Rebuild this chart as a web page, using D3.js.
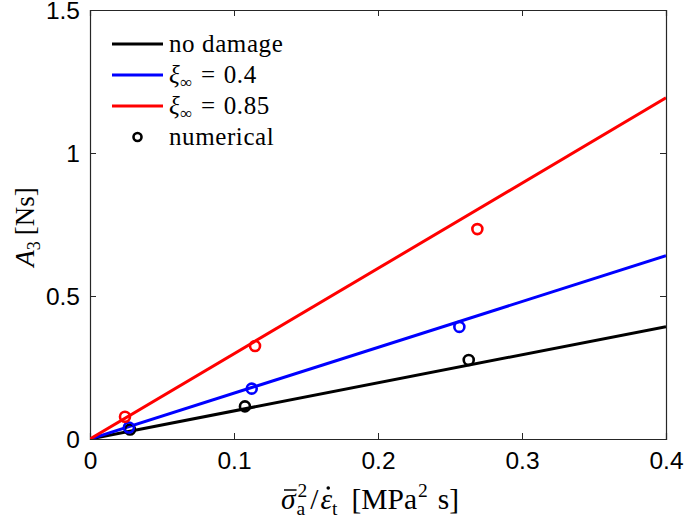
<!DOCTYPE html>
<html><head><meta charset="utf-8">
<script src="https://cdn.jsdelivr.net/npm/d3@7"></script>
<style>body{margin:0;background:#fff}svg{display:block}</style>
</head><body>
<svg id="c" width="685" height="521"></svg>
<script>
const xTicks = [0, 0.1, 0.2, 0.3, 0.4];
const yTicks = [0, 0.5, 1, 1.5];
const yTickLabels = ["0", "0.5", "1", "1.5"];
const xTickLabels = ["0", "0.1", "0.2", "0.3", "0.4"];
const lineX = [0, 0.4];
const noDamage = [0, 0.393];
const xi04 = [0, 0.641];
const xi085 = [0, 1.193];
const numNoDamageX = [0.0278, 0.1076, 0.263];
const numNoDamageY = [0.033, 0.114, 0.276];
const numXi04X = [0.027, 0.1123, 0.2565];
const numXi04Y = [0.040, 0.176, 0.392];
const numXi085X = [0.0243, 0.1146, 0.269];
const numXi085Y = [0.078, 0.325, 0.734];

const svg = d3.select("#c");
const L = 90, R = 666, T = 10, B = 439;
const x = d3.scaleLinear().domain([0, 0.4]).range([L, R]);
const y = d3.scaleLinear().domain([0, 1.5]).range([B, T]);
const axisCol = "#262626";
const sans = "'Liberation Sans', Arial, sans-serif";
const serif = "'Liberation Serif', 'Times New Roman', serif";

// axes
const gx = svg.append("g").attr("transform", `translate(0,${B})`)
  .call(d3.axisBottom(x).tickValues(xTicks).tickSize(-6).tickPadding(13).tickFormat((d,i)=>xTickLabels[i]));
const gy = svg.append("g").attr("transform", `translate(${L},0)`)
  .call(d3.axisLeft(y).tickValues(yTicks).tickSize(-6).tickPadding(10).tickFormat((d,i)=>yTickLabels[i]));
const gx2 = svg.append("g").attr("transform", `translate(0,${T})`)
  .call(d3.axisTop(x).tickValues(xTicks).tickSize(-6).tickFormat(""));
const gy2 = svg.append("g").attr("transform", `translate(${R},0)`)
  .call(d3.axisRight(y).tickValues(yTicks).tickSize(-6).tickFormat(""));
[gx, gy, gx2, gy2].forEach(g => {
  g.select(".domain").attr("stroke", axisCol).attr("stroke-width", 1.2);
  g.selectAll(".tick line").attr("stroke", axisCol).attr("stroke-width", 1);
  g.selectAll(".tick text").attr("fill", "#000").style("font-family", sans).style("font-size", "24.5px");
});
gx.selectAll(".tick text").attr("dy", "0.71em");
gy.selectAll(".tick text").attr("dy", "0.36em");

// lines
const lineGen = d3.line().x(d => x(d[0])).y(d => y(d[1]));
const series = [
  {vals: noDamage, col: "#000000"},
  {vals: xi04, col: "#0000ff"},
  {vals: xi085, col: "#ff0000"}
];
svg.append("clipPath").attr("id","pc").append("rect").attr("x",L).attr("y",T).attr("width",R-L).attr("height",B-T);
const pg = svg.append("g").attr("clip-path","url(#pc)");
series.forEach(s => {
  pg.append("path").datum(lineX.map((v,i)=>[v, s.vals[i]]))
    .attr("d", lineGen).attr("fill","none").attr("stroke", s.col).attr("stroke-width", 3);
});
// points
const pts = [
  {xs: numNoDamageX, ys: numNoDamageY, col: "#000000"},
  {xs: numXi04X, ys: numXi04Y, col: "#0000ff"},
  {xs: numXi085X, ys: numXi085Y, col: "#ff0000"}
];
pts.forEach(p => {
  svg.append("g").selectAll("circle").data(p.xs.map((v,i)=>[v,p.ys[i]])).join("circle")
    .attr("cx", d=>x(d[0])).attr("cy", d=>y(d[1])).attr("r", 5)
    .attr("fill","none").attr("stroke", p.col).attr("stroke-width", 2.6);
});

// legend
const leg = svg.append("g").style("font-family", serif).style("font-size", "25px").style("letter-spacing","0.6px");
const rows = [
  {y: 44, col: "#000", type: "line"},
  {y: 75, col: "#0000ff", type: "line"},
  {y: 106, col: "#ff0000", type: "line"},
  {y: 137, col: "#000", type: "pt"}
];
rows.forEach(r => {
  if (r.type === "line") leg.append("line").attr("x1",112).attr("x2",163).attr("y1",r.y).attr("y2",r.y).attr("stroke",r.col).attr("stroke-width",3);
  else leg.append("circle").attr("cx",137.5).attr("cy",r.y).attr("r",4).attr("fill","none").attr("stroke","#000").attr("stroke-width",2.6);
});
leg.append("text").attr("x",169).attr("y",44).attr("dy","0.3em").text("no damage");
function xiLabel(yy, val){
  const t = leg.append("text").attr("x",169).attr("y",yy).attr("dy","0.3em");
  t.append("tspan").style("font-style","italic").text("ξ");
  t.append("tspan").attr("dy","5").style("font-size","17px").text("∞");
  t.append("tspan").attr("dy","-5").attr("dx","8").text("=");
  t.append("tspan").attr("dx","8").text(val);
}
xiLabel(75, "0.4");
xiLabel(106, "0.85");
leg.append("text").attr("x",169).attr("y",137).attr("dy","0.3em").text("numerical");

// x label
const xlG = svg.append("g").style("font-family", serif).attr("fill","#000");
const base = 509;
const big = 29.5, small = 19.5;
function put(txt, xx, yy, size, italic){
  const t = xlG.append("text").attr("x", xx).attr("y", yy).style("font-size", size+"px")
    .style("font-style", italic ? "italic" : "normal").text(txt);
  return t.node().getComputedTextLength();
}
let cx = 281;
const wS = put("σ", cx, base, big, true);
xlG.append("line").attr("x1", cx+3).attr("x2", cx+wS+1).attr("y1", base-19).attr("y2", base-19).attr("stroke","#000").attr("stroke-width",1.5);
cx += wS + 1;
const wa = put("a", cx, base+6, small, false);
put("2", cx+1, base-12, small, false);
cx += wa + 5;
const wsl = put("/", cx, base, big, false);
cx += wsl + 2;
const we = put("ε", cx, base, big, true);
xlG.append("circle").attr("cx", cx+we/2+2).attr("cy", base-21).attr("r", 1.8).attr("fill","#000");
cx += we;
const wt = put("t", cx, base+6, small, false);
cx += wt + 14;
const wM = put("[MPa", cx, base, big, false);
cx += wM + 1;
const w2 = put("2", cx, base-12, small, false);
cx += w2 + 10;
put("s]", cx, base, big, false);

// y label
const yl = svg.append("text").attr("transform","translate(34,227) rotate(-90)").attr("text-anchor","middle")
  .style("font-family", serif).style("font-size","27px").attr("fill","#000");
yl.append("tspan").style("font-style","italic").text("A");
yl.append("tspan").attr("dy","6").style("font-size","18px").text("3");
yl.append("tspan").attr("dy","-6").attr("dx","6").text("[Ns]");
</script>
</body></html>
